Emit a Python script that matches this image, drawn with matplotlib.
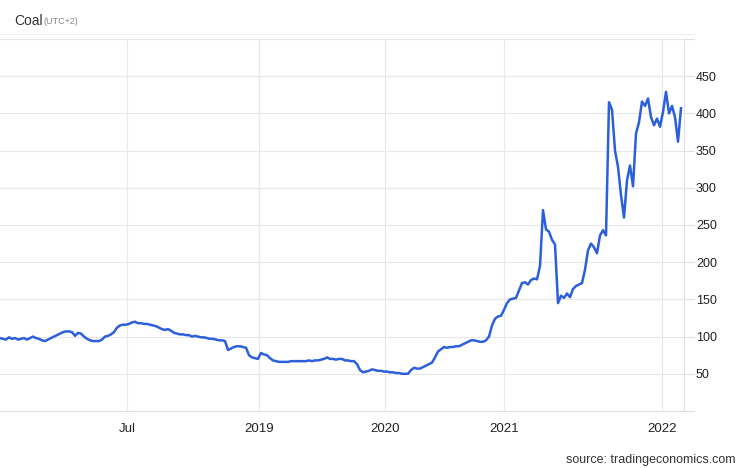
import numpy as np
import matplotlib
matplotlib.use("Agg")
import matplotlib.pyplot as plt
from matplotlib.lines import Line2D

#####
# Data: coal price, one observation per sample, read off the reference
coal = [
    98, 97, 96, 99, 97, 98, 96, 97, 98, 96,
    98, 100, 98, 97, 95, 94, 96, 98, 100, 102,
    104, 106, 107, 107, 106, 101, 105, 104, 100, 97,
    95, 94, 94, 94, 96, 100, 101, 103, 106, 112,
    115, 116, 116, 117, 119, 120, 118, 118, 117, 117,
    116, 115, 114, 112, 110, 109, 110, 108, 105, 104,
    103, 103, 102, 102, 100, 101, 100, 99, 99, 98,
    97, 97, 96, 95, 95, 94, 82, 84, 86, 87,
    87, 86, 85, 75, 72, 71, 70, 78, 76, 75,
    71, 68, 67, 66, 66, 66, 66, 67, 67, 67,
    67, 67, 67, 68, 67, 68, 68, 69, 70, 72,
    70, 70, 69, 70, 70, 68, 68, 67, 67, 63,
    55, 52, 53, 54, 56, 55, 54, 54, 53, 53,
    52, 52, 51, 51, 50, 50, 50, 55, 58, 57,
    57, 59, 61, 63, 65, 72, 80, 83, 86, 85,
    86, 86, 87, 87, 89, 91, 93, 95, 95, 94,
    93, 93, 95, 100, 115, 124, 127, 128, 136, 145,
    150, 151, 152, 162, 172, 173, 170, 176, 178, 177,
    195, 270, 244, 241, 230, 224, 145, 155, 152, 158,
    153, 164, 168, 170, 172, 190, 216, 225, 220, 212,
    236, 243, 236, 415, 405, 350, 328, 290, 260, 310,
    330, 302, 373, 388, 416, 410, 420, 395, 384, 393,
    382, 402, 429, 400, 410, 395, 362, 407,
]

# x tick labels and the observation index where each sits
tick_labels = ["Jul", "2019", "2020", "2021", "2022"]
tick_index = [42.3, 86.3, 128.3, 168.0, 220.7]

y_ticks = [0, 50, 100, 150, 200, 250, 300, 350, 400, 450, 500]
y_labels = ["", "50", "100", "150", "200", "250", "300", "350", "400", "450", ""]

#####
# Plot
plt.rcParams['font.family'] = ['Liberation Sans', 'DejaVu Sans']

fig = plt.figure(figsize=(7.46, 4.68), dpi=100)
ax = fig.add_axes([0.0, 0.1218, 0.9169, 0.7949])

x = np.arange(len(coal))
ax.plot(x, coal, color='#2b5fdc', linewidth=1.8, solid_joinstyle='round')

ax.set_xlim(0, 228)
ax.set_ylim(0, 500)

ax.yaxis.tick_right()
ax.set_yticks(y_ticks)
ax.set_yticklabels(y_labels)
ax.set_xticks(tick_index)
ax.set_xticklabels(tick_labels)

ax.tick_params(axis='y', length=7.5, width=0.8, color='#e0e0e0', pad=1,
               labelsize=9, labelcolor='#222222')
ax.tick_params(axis='x', length=0, pad=9, labelsize=9.5, labelcolor='#222222')

ax.grid(True, color='#e8e8e8', linewidth=0.8)
ax.set_axisbelow(True)

for side in ['left', 'top']:
    ax.spines[side].set_visible(False)
ax.spines['right'].set_color('#e0e0e0')
ax.spines['bottom'].set_color('#e0e0e0')
ax.spines['right'].set_linewidth(0.8)
ax.spines['bottom'].set_linewidth(0.8)

# faint separator under the title
fig.add_artist(Line2D([0, 695 / 746], [1 - 34 / 468, 1 - 34 / 468],
                      color='#f0f0f0', linewidth=0.8))

fig.text(14 / 746, 1 - 21 / 468, "Coal", fontsize=10, color='#333333',
         va='center', ha='left')
fig.text(44 / 746, 1 - 22 / 468, "(UTC+2)", fontsize=6.5, color='#888888',
         va='center', ha='left')
fig.text(736 / 746, 1 - 460 / 468, "source: tradingeconomics.com", fontsize=9,
         color='#333333', va='center', ha='right')

fig.savefig("out.png", dpi=100)
